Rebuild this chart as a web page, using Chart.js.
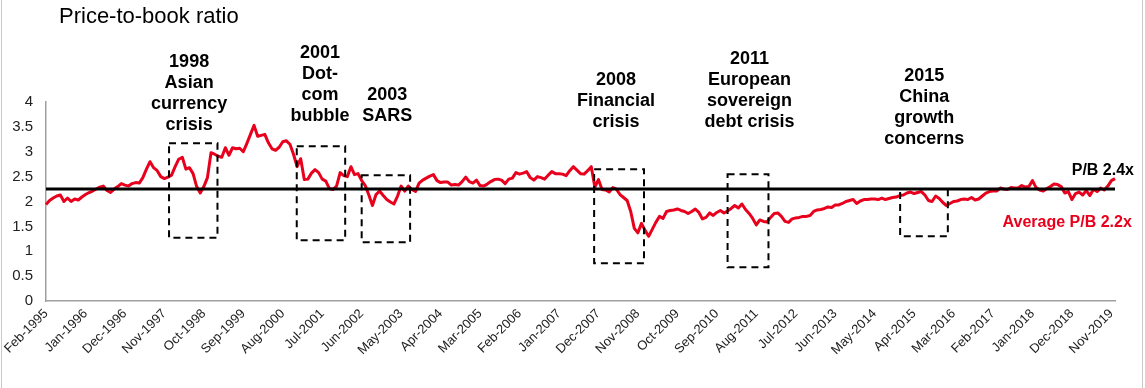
<!DOCTYPE html>
<html>
<head>
<meta charset="utf-8">
<script src="https://cdn.jsdelivr.net/npm/chart.js@4.4.0/dist/chart.umd.min.js"></script>
<style>
  html, body { margin: 0; padding: 0; background: #fff; }
  #wrap { width: 1145px; height: 388px; }
</style>
</head>
<body>
<div id="wrap"><canvas id="pbChart" width="1145" height="388"></canvas></div>
<script>
// Monthly price-to-book, Feb-1995 .. Dec-2019
const MONTHS = ['Jan','Feb','Mar','Apr','May','Jun','Jul','Aug','Sep','Oct','Nov','Dec'];
const startYear = 1995, startMonth = 1; // Feb
const labelEvery = 11;

const pbRatio = [
  1.94, 2.02, 2.07, 2.11, 2.13, 2.00, 2.07, 2.00, 2.05, 2.03,
  2.09, 2.14, 2.18, 2.21, 2.25, 2.29, 2.31, 2.22, 2.18, 2.25,
  2.30, 2.36, 2.33, 2.31, 2.36, 2.38, 2.37, 2.48, 2.65, 2.80,
  2.68, 2.62, 2.50, 2.46, 2.49, 2.53, 2.70, 2.85, 2.89, 2.65,
  2.68, 2.56, 2.30, 2.17, 2.30, 2.48, 2.98, 2.95, 2.91, 2.89,
  3.08, 2.93, 3.08, 3.06, 3.07, 3.00, 3.17, 3.35, 3.53, 3.31,
  3.33, 3.35, 3.18, 3.06, 3.03, 3.09, 3.20, 3.22, 3.15, 2.95,
  2.70, 2.86, 2.44, 2.45, 2.57, 2.64, 2.58, 2.45, 2.41, 2.26,
  2.24, 2.31, 2.58, 2.52, 2.50, 2.70, 2.54, 2.56, 2.42, 2.32,
  2.13, 1.92, 2.14, 2.21, 2.12, 2.04, 1.99, 1.95, 2.11, 2.31,
  2.21, 2.31, 2.24, 2.20, 2.37, 2.43, 2.47, 2.51, 2.54, 2.42,
  2.38, 2.39, 2.39, 2.33, 2.34, 2.33, 2.40, 2.49, 2.40, 2.37,
  2.43, 2.32, 2.31, 2.35, 2.40, 2.44, 2.45, 2.43, 2.36, 2.45,
  2.47, 2.58, 2.55, 2.57, 2.60, 2.48, 2.43, 2.50, 2.48, 2.45,
  2.53, 2.60, 2.56, 2.56, 2.55, 2.52, 2.62, 2.70, 2.63, 2.56,
  2.55, 2.62, 2.70, 2.29, 2.44, 2.24, 2.23, 2.19, 2.28, 2.25,
  2.14, 2.08, 2.02, 1.80, 1.46, 1.37, 1.56, 1.42, 1.30, 1.44,
  1.58, 1.70, 1.66, 1.80, 1.82, 1.83, 1.85, 1.82, 1.80, 1.76,
  1.80, 1.85, 1.78, 1.65, 1.68, 1.77, 1.72, 1.78, 1.82, 1.77,
  1.81, 1.86, 1.92, 1.87, 1.95, 1.84, 1.76, 1.66, 1.53, 1.63,
  1.60, 1.59, 1.68, 1.76, 1.77, 1.70, 1.60, 1.58, 1.65, 1.67,
  1.68, 1.70, 1.70, 1.72, 1.80, 1.83, 1.84, 1.86, 1.89, 1.88,
  1.93, 1.93, 1.96, 2.00, 2.02, 2.04, 1.96, 2.01, 2.04, 2.04,
  2.05, 2.05, 2.04, 2.07, 2.04, 2.06, 2.08, 2.09, 2.12, 2.13,
  2.17, 2.19, 2.16, 2.18, 2.20, 2.13, 2.02, 2.00, 2.11, 2.06,
  1.98, 1.92, 1.96, 2.00, 2.01, 2.04, 2.05, 2.04, 2.08, 2.03,
  2.05, 2.11, 2.17, 2.20, 2.21, 2.21, 2.27, 2.25, 2.24, 2.28,
  2.27, 2.27, 2.32, 2.29, 2.30, 2.42, 2.28, 2.23, 2.21, 2.26,
  2.30, 2.35, 2.34, 2.30, 2.17, 2.20, 2.04, 2.16, 2.19, 2.13,
  2.22, 2.12, 2.24, 2.20, 2.27, 2.23, 2.31, 2.42, 2.46
];

const yTicks = [0, 0.5, 1, 1.5, 2, 2.5, 3, 3.5, 4];
const avgLevel = 2.25;

// crisis windows: [from index, to index, top value, bottom value]
const crisisBoxes = [
  [34.3, 47.8, 3.17, 1.27],
  [69.9, 83.4, 3.11, 1.22],
  [88.0, 101.5, 2.53, 1.18],
  [152.8, 166.7, 2.65, 0.76],
  [190.0, 201.4, 2.55, 0.68],
  [238.1, 251.4, 2.25, 1.30]
];
// crisis captions: [centre index, value of first line, lines]
const crisisNotes = [
  [39.9, 4.80, ['1998', 'Asian', 'currency', 'crisis']],
  [76.4, 4.99, ['2001', 'Dot-', 'com', 'bubble']],
  [95.1, 4.14, ['2003', 'SARS']],
  [158.9, 4.44, ['2008', 'Financial', 'crisis']],
  [196.1, 4.86, ['2011', 'European', 'sovereign', 'debt crisis']],
  [244.8, 4.52, ['2015', 'China', 'growth', 'concerns']]
];

const categories = pbRatio.map((_, i) => {
  const m = startMonth + i;
  return MONTHS[m % 12] + '-' + (startYear + Math.floor(m / 12));
});

const FONT = "'Liberation Sans', Arial, sans-serif";

const notesPlugin = {
  id: 'notes',
  beforeDraw(chart) {
    const ctx = chart.ctx;
    ctx.save();
    ctx.strokeStyle = '#c8c8c8';
    ctx.lineWidth = 1;
    ctx.beginPath();
    ctx.moveTo(1.5, 0); ctx.lineTo(1.5, 388);
    ctx.moveTo(1142.5, 0); ctx.lineTo(1142.5, 388);
    ctx.stroke();
    ctx.fillStyle = '#000';
    ctx.font = '22px ' + FONT;
    ctx.textBaseline = 'middle';
    ctx.fillText('Price-to-book ratio', 59, 17);
    ctx.restore();
  },
  afterDatasetsDraw(chart) {
    const { ctx, scales: { x, y }, chartArea } = chart;
    ctx.save();

    // average line
    const ay = y.getPixelForValue(avgLevel);
    ctx.strokeStyle = '#000';
    ctx.lineWidth = 3;
    ctx.beginPath();
    ctx.moveTo(chartArea.left, ay);
    ctx.lineTo(chartArea.right, ay);
    ctx.stroke();

    // dashed crisis boxes
    ctx.lineWidth = 2;
    ctx.setLineDash([7, 5]);
    crisisBoxes.forEach(([a, b, top, bot]) => {
      const x0 = x.getPixelForValue(a), x1 = x.getPixelForValue(b);
      const y0 = y.getPixelForValue(top), y1 = y.getPixelForValue(bot);
      ctx.strokeRect(x0, y0, x1 - x0, y1 - y0);
    });
    ctx.setLineDash([]);

    // captions
    ctx.fillStyle = '#000';
    ctx.font = 'bold 18px ' + FONT;
    ctx.textAlign = 'center';
    ctx.textBaseline = 'middle';
    crisisNotes.forEach(([c, v, lines]) => {
      const cx = x.getPixelForValue(c);
      const cy = y.getPixelForValue(v);
      lines.forEach((t, i) => ctx.fillText(t, cx, cy + i * 21));
    });

    // P/B labels
    ctx.textAlign = 'right';
    ctx.font = 'bold 16px ' + FONT;
    ctx.fillText('P/B 2.4x', x.getPixelForValue(303.3), y.getPixelForValue(2.63));
    ctx.fillStyle = '#e8001c';
    ctx.fillText('Average P/B 2.2x', x.getPixelForValue(302.7), y.getPixelForValue(1.57));
    ctx.restore();
  }
};

new Chart(document.getElementById('pbChart'), {
  type: 'line',
  data: {
    labels: categories,
    datasets: [{
      label: 'P/B',
      data: pbRatio,
      borderColor: '#e8001c',
      borderWidth: 3,
      pointRadius: 0,
      tension: 0,
      borderJoinStyle: 'round',
      fill: false
    }]
  },
  options: {
    responsive: false,
    devicePixelRatio: 1,
    animation: false,
    layout: { padding: { top: 102, right: 30, left: 0, bottom: 0 } },
    plugins: {
      legend: { display: false },
      tooltip: { enabled: false }
    },
    scales: {
      x: {
        grid: { display: false, drawTicks: false },
        border: { display: true, color: '#a0a0a0', width: 1.5 },
        afterFit: s => { s.height = 87; },
        ticks: {
          autoSkip: false,
          minRotation: 45,
          maxRotation: 45,
          padding: 5,
          color: '#222',
          font: { family: FONT, size: 13 },
          callback: (v, i) => (i % labelEvery === 0 ? categories[i] : '')
        }
      },
      y: {
        min: 0,
        max: 4,
        afterFit: s => { s.width = 46; },
        afterBuildTicks: s => { s.ticks = yTicks.map(v => ({ value: v })); },
        grid: { display: false, drawTicks: false },
        border: { display: true, color: '#a0a0a0', width: 1.5 },
        ticks: {
          padding: 13,
          color: '#222',
          font: { family: FONT, size: 15 },
          callback: v => String(v)
        }
      }
    }
  },
  plugins: [notesPlugin]
});
</script>
</body>
</html>
